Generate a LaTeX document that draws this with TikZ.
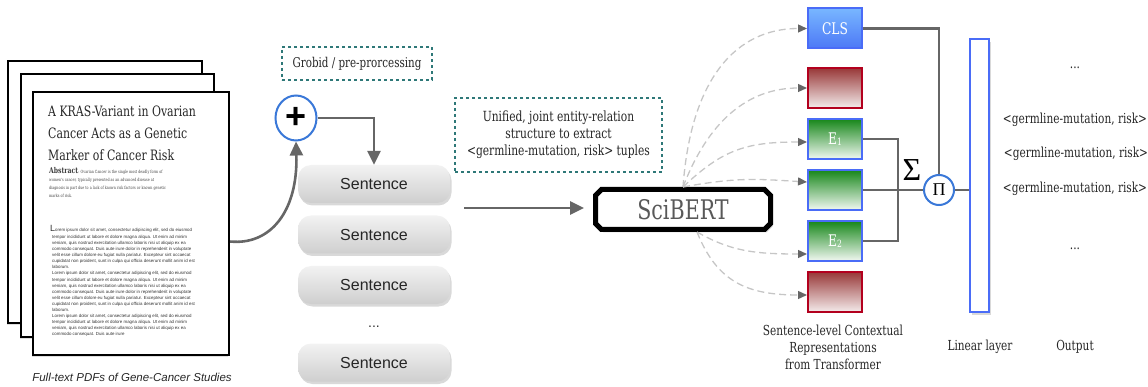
\documentclass[tikz,border=0pt]{standalone}
\usepackage{fontspec}
\setmainfont{Liberation Sans}
\newfontfamily\tw[FakeStretch=0.85]{DejaVu Serif Condensed}
\newfontfamily\lsr{Liberation Serif}
\usetikzlibrary{arrows.meta,shapes.misc,shapes.geometric,shadows}
\newcommand\myfs[2]{\fontsize{#1}{#2}\selectfont}
\definecolor{arr}{HTML}{666666}
\definecolor{tealdash}{HTML}{2E7878}
\definecolor{circ}{HTML}{3A78D8}
\definecolor{bbord}{HTML}{4A6CF7}
\definecolor{rbord}{HTML}{B3001E}
\definecolor{blt}{HTML}{78B6FF}
\definecolor{bdk}{HTML}{4C78F6}
\definecolor{rdk}{HTML}{983838}
\definecolor{rlt}{HTML}{F4ECEC}
\definecolor{gdk}{HTML}{17871A}
\definecolor{glt}{HTML}{F2F8F2}
\begin{document}
\begin{tikzpicture}[x=1pt,y=-1pt,
  page/.style={draw=black, line width=2.4pt, fill=white, inner sep=0pt,
    drop shadow={shadow xshift=-1pt, shadow yshift=-2pt, opacity=0.25}},
  ttl/.style={anchor=base west, inner sep=0pt, font=\tw\myfs{14.3}{14.3}, text=black!85},
  abst/.style={anchor=base west, inner sep=0pt, font=\tw\myfs{4.3}{4.3}, text=black!75},
  sent/.style={rounded corners=13pt, top color=gray!10, bottom color=gray!38, draw=none,
    minimum width=152pt, minimum height=38pt, font=\myfs{16}{16}, text=black!85,
    drop shadow={shadow xshift=1.5pt, shadow yshift=-2.5pt, opacity=0.3}},
  bigarr/.style={draw=arr, line width=2.6pt, -{Triangle[length=14pt,width=13pt]}},
  tbox/.style={draw=tealdash, line width=1.2pt, dash pattern=on 3pt off 3pt, inner sep=0pt},
  dsh/.style={draw=gray!45, line width=1.3pt, dash pattern=on 7pt off 4pt,
    -{Triangle[length=9pt,width=8pt,color=arr,fill=arr]}},
  vec/.style={minimum width=54pt, minimum height=40pt, line width=2pt, inner sep=0pt,
    font=\tw\myfs{16}{16}, text=white},
  bluev/.style={vec, draw=bbord, top color=blt, bottom color=bdk},
  redv/.style={vec, draw=rbord, top color=rdk, bottom color=rlt},
  greenv/.style={vec, draw=bbord, top color=gdk, bottom color=glt},
  conn/.style={draw=arr, line width=2.4pt},
  lbl/.style={font=\tw\myfs{13.8}{17}, text=black!85, align=center, inner sep=0pt}
]
\useasboundingbox (0,0) rectangle (1148,387);

% ---------- pages ----------
\node[page, minimum width=194pt, minimum height=262pt] (pg3) at (105,192) {};
\node[page, minimum width=193pt, minimum height=263pt] (pg2) at (117.5,205.5) {};
\node[page, minimum width=196pt, minimum height=263pt] (pg1) at (131,223.5) {};

\node[ttl] (t1) at (48,117) {A KRAS-Variant in Ovarian};
\node[ttl] (t2) at (48,139) {Cancer Acts as a Genetic};
\node[ttl] (t3) at (48,161) {Marker of Cancer Risk};

\node[abst] (a1) at (49,174) {{\bfseries\myfs{8}{8}Abstract}: Ovarian Cancer is the single most deadly form of};
\node[abst] (a2) at (49,182) {women's cancer, typically presented as an advanced disease at};
\node[abst] (a3) at (49,190) {diagnosis in part due to a lack of known risk factors or known genetic};
\node[abst] (a4) at (49,198) {marks of risk.};

\node[anchor=base west, inner sep=0pt, font=\myfs{4.4}{4.4}, text=black!80] (l0) at (50,232)
  {{\myfs{9}{9}L}orem ipsum dolor sit amet, consectetur adipiscing elit, sed do eiusmod};
\node[anchor=north west, inner sep=0pt, align=left, font=\myfs{4.4}{6.1}, text=black!80] (lb) at (52,235)
  {tempor incididunt ut labore et dolore magna aliqua. Ut enim ad minim\\
   veniam, quis nostrud exercitation ullamco laboris nisi ut aliquip ex ea\\
   commodo consequat. Duis aute irure dolor in reprehenderit in voluptate\\
   velit esse cillum dolore eu fugiat nulla pariatur. Excepteur sint occaecat\\
   cupidatat non proident, sunt in culpa qui officia deserunt mollit anim id est\\
   laborum.\\
   Lorem ipsum dolor sit amet, consectetur adipiscing elit, sed do eiusmod\\
   tempor incididunt ut labore et dolore magna aliqua. Ut enim ad minim\\
   veniam, quis nostrud exercitation ullamco laboris nisi ut aliquip ex ea\\
   commodo consequat. Duis aute irure dolor in reprehenderit in voluptate\\
   velit esse cillum dolore eu fugiat nulla pariatur. Excepteur sint occaecat\\
   cupidatat non proident, sunt in culpa qui officia deserunt mollit anim id est\\
   laborum.\\
   Lorem ipsum dolor sit amet, consectetur adipiscing elit, sed do eiusmod\\
   tempor incididunt ut labore et dolore magna aliqua. Ut enim ad minim\\
   veniam, quis nostrud exercitation ullamco laboris nisi ut aliquip ex ea\\
   commodo consequat. Duis aute irure};

\node[font=\itshape\myfs{11.5}{11.5}, text=black!85] (cap) at (132,377) {Full-text PDFs of Gene-Cancer Studies};

% ---------- pre-processing ----------
\node[tbox, minimum width=150pt, minimum height=33pt, font=\tw\myfs{13.5}{13.5}, text=black!85] (grob) at (357,63.5) {Grobid / pre-prorcessing};
\node[ellipse, draw=circ, line width=2pt, fill=white, minimum width=41pt, minimum height=45pt, inner sep=0pt,
  font=\bfseries\myfs{36}{36}] (plus) at (296,118) {\raisebox{-1pt}{+}};

\node[sent] (s1) at (374,184) {Sentence};
\node[sent] (s2) at (374,234.5) {Sentence};
\node[sent] (s3) at (374,285) {Sentence};
\node[font=\myfs{14}{14}, text=black!80] (sdots) at (374,327) {...};
\node[sent] (s4) at (374,362.5) {Sentence};

\draw[bigarr] ([yshift=-18pt]pg1.east) .. controls +(40,4) and +(2,70) .. (plus.south);
\draw[bigarr] (plus.east) -| (s1.north);

\node[tbox, minimum width=207pt, minimum height=74pt, align=center, font=\tw\myfs{14}{17}, text=black!85] (uni) at (558.5,135)
  {Unified, joint entity-relation\\structure to extract\\<germline-mutation, risk> tuples};

% ---------- SciBERT ----------
\node[chamfered rectangle, chamfered rectangle xsep=3pt, chamfered rectangle ysep=3pt, draw=black, line width=5pt, fill=white,
  minimum width=175pt, minimum height=40pt, inner sep=0pt, font=\tw\myfs{27}{27}, text=black!65,
  drop shadow={shadow xshift=2pt, shadow yshift=-3pt, opacity=0.3}] (sb) at (683,209.5) {SciBERT};

\coordinate (ain) at (464,208);
\draw[bigarr, shorten >=9pt] (ain) -- (ain -| sb.west);

% ---------- vectors ----------
\node[bluev] (cls) at (835,28.5) {CLS};
\node[redv] (r1) at (835,88) {};
\node[greenv] (e1) at (835,139) {E\raisebox{-1.5pt}{\myfs{10}{10}1}};
\node[greenv] (g2) at (835,190) {};
\node[greenv] (e2) at (835,241) {E\raisebox{-1.5pt}{\myfs{10}{10}2}};
\node[redv] (r2) at (835,292) {};

\draw[dsh] (sb.north) .. controls +(8,-110) and +(-70,0) .. (cls.west);
\draw[dsh] (sb.north) .. controls +(25,-65) and +(-60,0) .. (r1.west);
\draw[dsh] (sb.north) .. controls +(40,-38) and +(-60,0) .. ([yshift=-3pt]e1.west);
\draw[dsh] (sb.north) .. controls +(55,-10) and +(-50,-3) .. ([yshift=8pt]g2.west);
\draw[dsh] ([xshift=14pt]sb.south) .. controls +(35,20) and +(-50,0) .. ([yshift=-13pt]e2.west);
\draw[dsh] ([xshift=14pt]sb.south) .. controls +(20,50) and +(-60,0) .. ([yshift=-3pt]r2.west);

% ---------- aggregation ----------
\node[circle, draw=circ, line width=2pt, fill=white, minimum size=30pt, inner sep=0pt, font=\lsr\myfs{18}{18}] (pi) at (939,190) {Π};
\node[font=\lsr\myfs{32}{32}] (sig) at (912,170) {Σ};
\coordinate (br) at (898,190);

\draw[conn] (cls.east) -| (pi.north);
\draw[conn] (e1.east) -| (br) |- (e2.east);
\draw[conn] (g2.east) -- (pi.west);

\node[draw=bbord, line width=2.5pt, fill=white, minimum width=19pt, minimum height=273pt, inner sep=0pt,
  drop shadow={shadow xshift=1.5pt, shadow yshift=-3pt, opacity=0.3}] (lin) at (979.5,175.5) {};
\draw[conn] (pi.east) -- (pi.east -| lin.west);

% ---------- labels ----------
\node[lbl] (ctx) at (833,347) {Sentence-level Contextual\\Representations\\from Transformer};
\node[lbl] (linl) at (980,347) {Linear layer};
\node[lbl] (outl) at (1075,347) {Output};
\node[lbl] (od1) at (1075,68) {...};
\node[lbl] (o1) at (1075,120) {<germline-mutation, risk>};
\node[lbl] (o2) at (1076,154) {<germline-mutation, risk>};
\node[lbl] (o3) at (1075,189) {<germline-mutation, risk>};
\node[lbl] (od2) at (1075,249) {...};
\end{tikzpicture}
\end{document}
